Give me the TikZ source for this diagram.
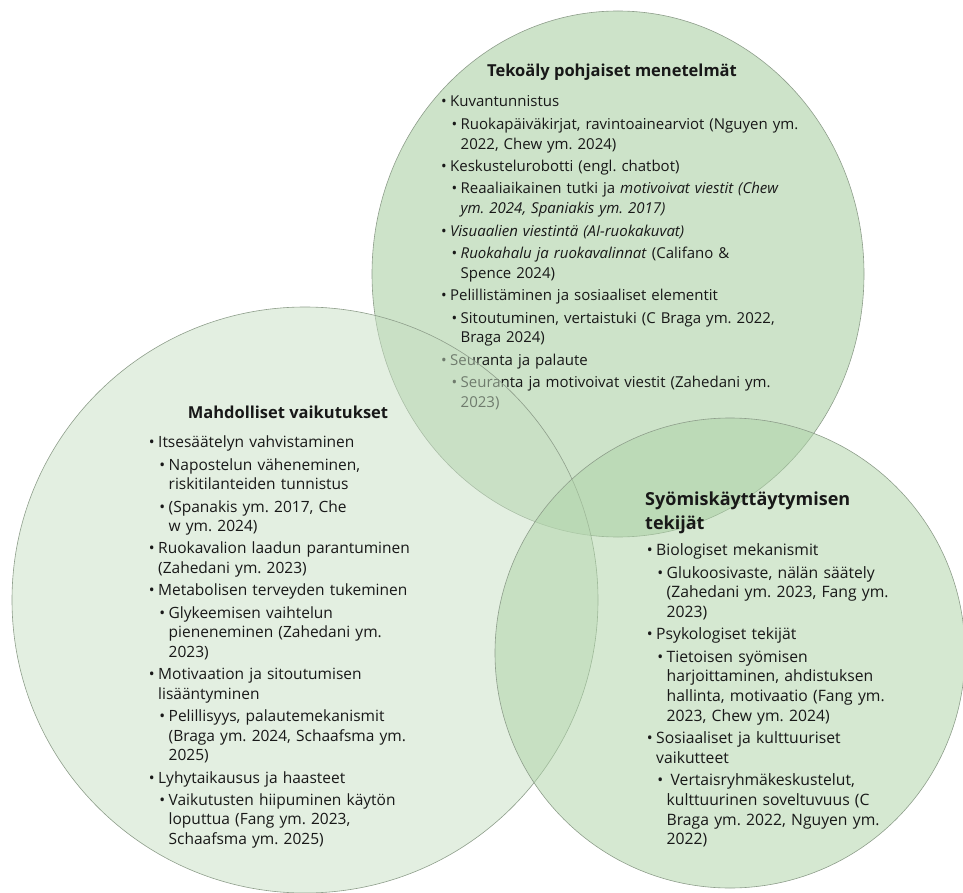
\documentclass[tikz,border=0pt]{standalone}
\usepackage{fontspec}
\setmainfont{Open Sans}
\usepackage{enumitem}
\usetikzlibrary{positioning}
\frenchspacing
\definecolor{ink}{HTML}{181818}
\definecolor{rim}{HTML}{8E9E8B}
\definecolor{sage}{HTML}{CDE3C9}
\definecolor{mint}{HTML}{C7DFC3}
\definecolor{leaf}{HTML}{AED3A7}
\setlist[itemize]{label={\textbullet},topsep=0pt,partopsep=0pt,parsep=0pt,
  itemsep=2.6pt,labelwidth=4pt,labelsep=3.5pt,leftmargin=8pt}
\setlist[itemize,2]{topsep=2.6pt,leftmargin=10.5pt}

\begin{document}
\begin{tikzpicture}[x=1pt,y=-1pt,
  ympyra/.style={draw=rim,line width=0.6pt},
  otsikko/.style={inner sep=0pt,text=ink,font=\fontsize{16.5}{24}\selectfont\bfseries},
  lista/.style={anchor=north west,inner sep=0pt,text=ink,align=left,
    text width=#1,font=\fontsize{15}{19.8}\selectfont}]
\useasboundingbox (0,0) rectangle (963,893);
\coordinate (tkKeski) at (618,274);
\coordinate (mvKeski) at (305,600);
\coordinate (stKeski) at (730,653);
% tekoaly
\fill[sage] (tkKeski) ellipse [x radius=246pt,y radius=263pt];
\draw[ympyra] (tkKeski) ellipse [x radius=246pt,y radius=263pt];
\node[otsikko] (tkOtsikko) at (612,72) {Tekoäly pohjaiset menetelmät};
\node[lista=380pt] (tkLista) at (442,87) {%
\begin{itemize}
\item Kuvantunnistus
  \begin{itemize}
  \item Ruokapäiväkirjat, ravintoainearviot (Nguyen ym.\\ 2022, Chew ym. 2024)
  \end{itemize}
\item Keskustelurobotti (engl. chatbot)
  \begin{itemize}
  \item Reaaliaikainen tutki ja \emph{motivoivat viestit (Chew\\ ym. 2024, Spaniakis ym. 2017)}
  \end{itemize}
\item \emph{Visuaalien viestintä (AI-ruokakuvat)}
  \begin{itemize}
  \item \emph{Ruokahalu ja ruokavalinnat} (Califano \&\\ Spence 2024)
  \end{itemize}
\item Pelillistäminen ja sosiaaliset elementit
  \begin{itemize}
  \item Sitoutuminen, vertaistuki (C Braga ym. 2022,\\ Braga 2024)
  \end{itemize}
\item Seuranta ja palaute
  \begin{itemize}
  \item Seuranta ja motivoivat viestit (Zahedani ym.\\ 2023)
  \end{itemize}
\end{itemize}};
% vaikutukset
\fill[mint,fill opacity=0.5] (mvKeski) circle [radius=293pt];
\draw[ympyra] (mvKeski) circle [radius=293pt];
\node[otsikko] (mvOtsikko) at (288,412) {Mahdolliset vaikutukset};
\node[lista=300pt,font=\fontsize{15.5}{19.65}\selectfont] (mvLista) at (150,428) {%
\begin{itemize}
\item Itsesäätelyn vahvistaminen
  \begin{itemize}
  \item Napostelun väheneminen,\\ riskitilanteiden tunnistus
  \item (Spanakis ym. 2017, Che\\ w ym. 2024)
  \end{itemize}
\item Ruokavalion laadun parantuminen\\ (Zahedani ym. 2023)
\item Metabolisen terveyden tukeminen
  \begin{itemize}
  \item Glykeemisen vaihtelun\\ pieneneminen (Zahedani ym.\\ 2023)
  \end{itemize}
\item Motivaation ja sitoutumisen\\ lisääntyminen
  \begin{itemize}
  \item Pelillisyys, palautemekanismit\\ (Braga ym. 2024, Schaafsma ym.\\ 2025)
  \end{itemize}
\item Lyhytaikausus ja haasteet
  \begin{itemize}
  \item Vaikutusten hiipuminen käytön\\ loputtua (Fang ym. 2023,\\ Schaafsma ym. 2025)
  \end{itemize}
\end{itemize}};
% tekijat
\fill[leaf,fill opacity=0.52] (stKeski) circle [radius=235pt];
\draw[ympyra] (stKeski) circle [radius=235pt];
\node[otsikko,anchor=north west,align=left,font=\fontsize{18}{24}\selectfont\bfseries] (stOtsikko) at (645,491.5) {Syömiskäyttäytymisen\\tekijät};
\node[lista=300pt,font=\fontsize{15.7}{19.7}\selectfont] (stLista) at (648,536) {%
\begin{itemize}
\item Biologiset mekanismit
  \begin{itemize}
  \item Glukoosivaste, nälän säätely\\ (Zahedani ym. 2023, Fang ym.\\ 2023)
  \end{itemize}
\item Psykologiset tekijät
  \begin{itemize}
  \item Tietoisen syömisen\\ harjoittaminen, ahdistuksen\\ hallinta, motivaatio (Fang ym.\\ 2023, Chew ym. 2024)
  \end{itemize}
\item Sosiaaliset ja kulttuuriset\\ vaikutteet
  \begin{itemize}
  \item \hspace{4pt}Vertaisryhmäkeskustelut,\\ kulttuurinen soveltuvuus (C\\ Braga ym. 2022, Nguyen ym.\\ 2022)
  \end{itemize}
\end{itemize}};
\end{tikzpicture}
\end{document}
